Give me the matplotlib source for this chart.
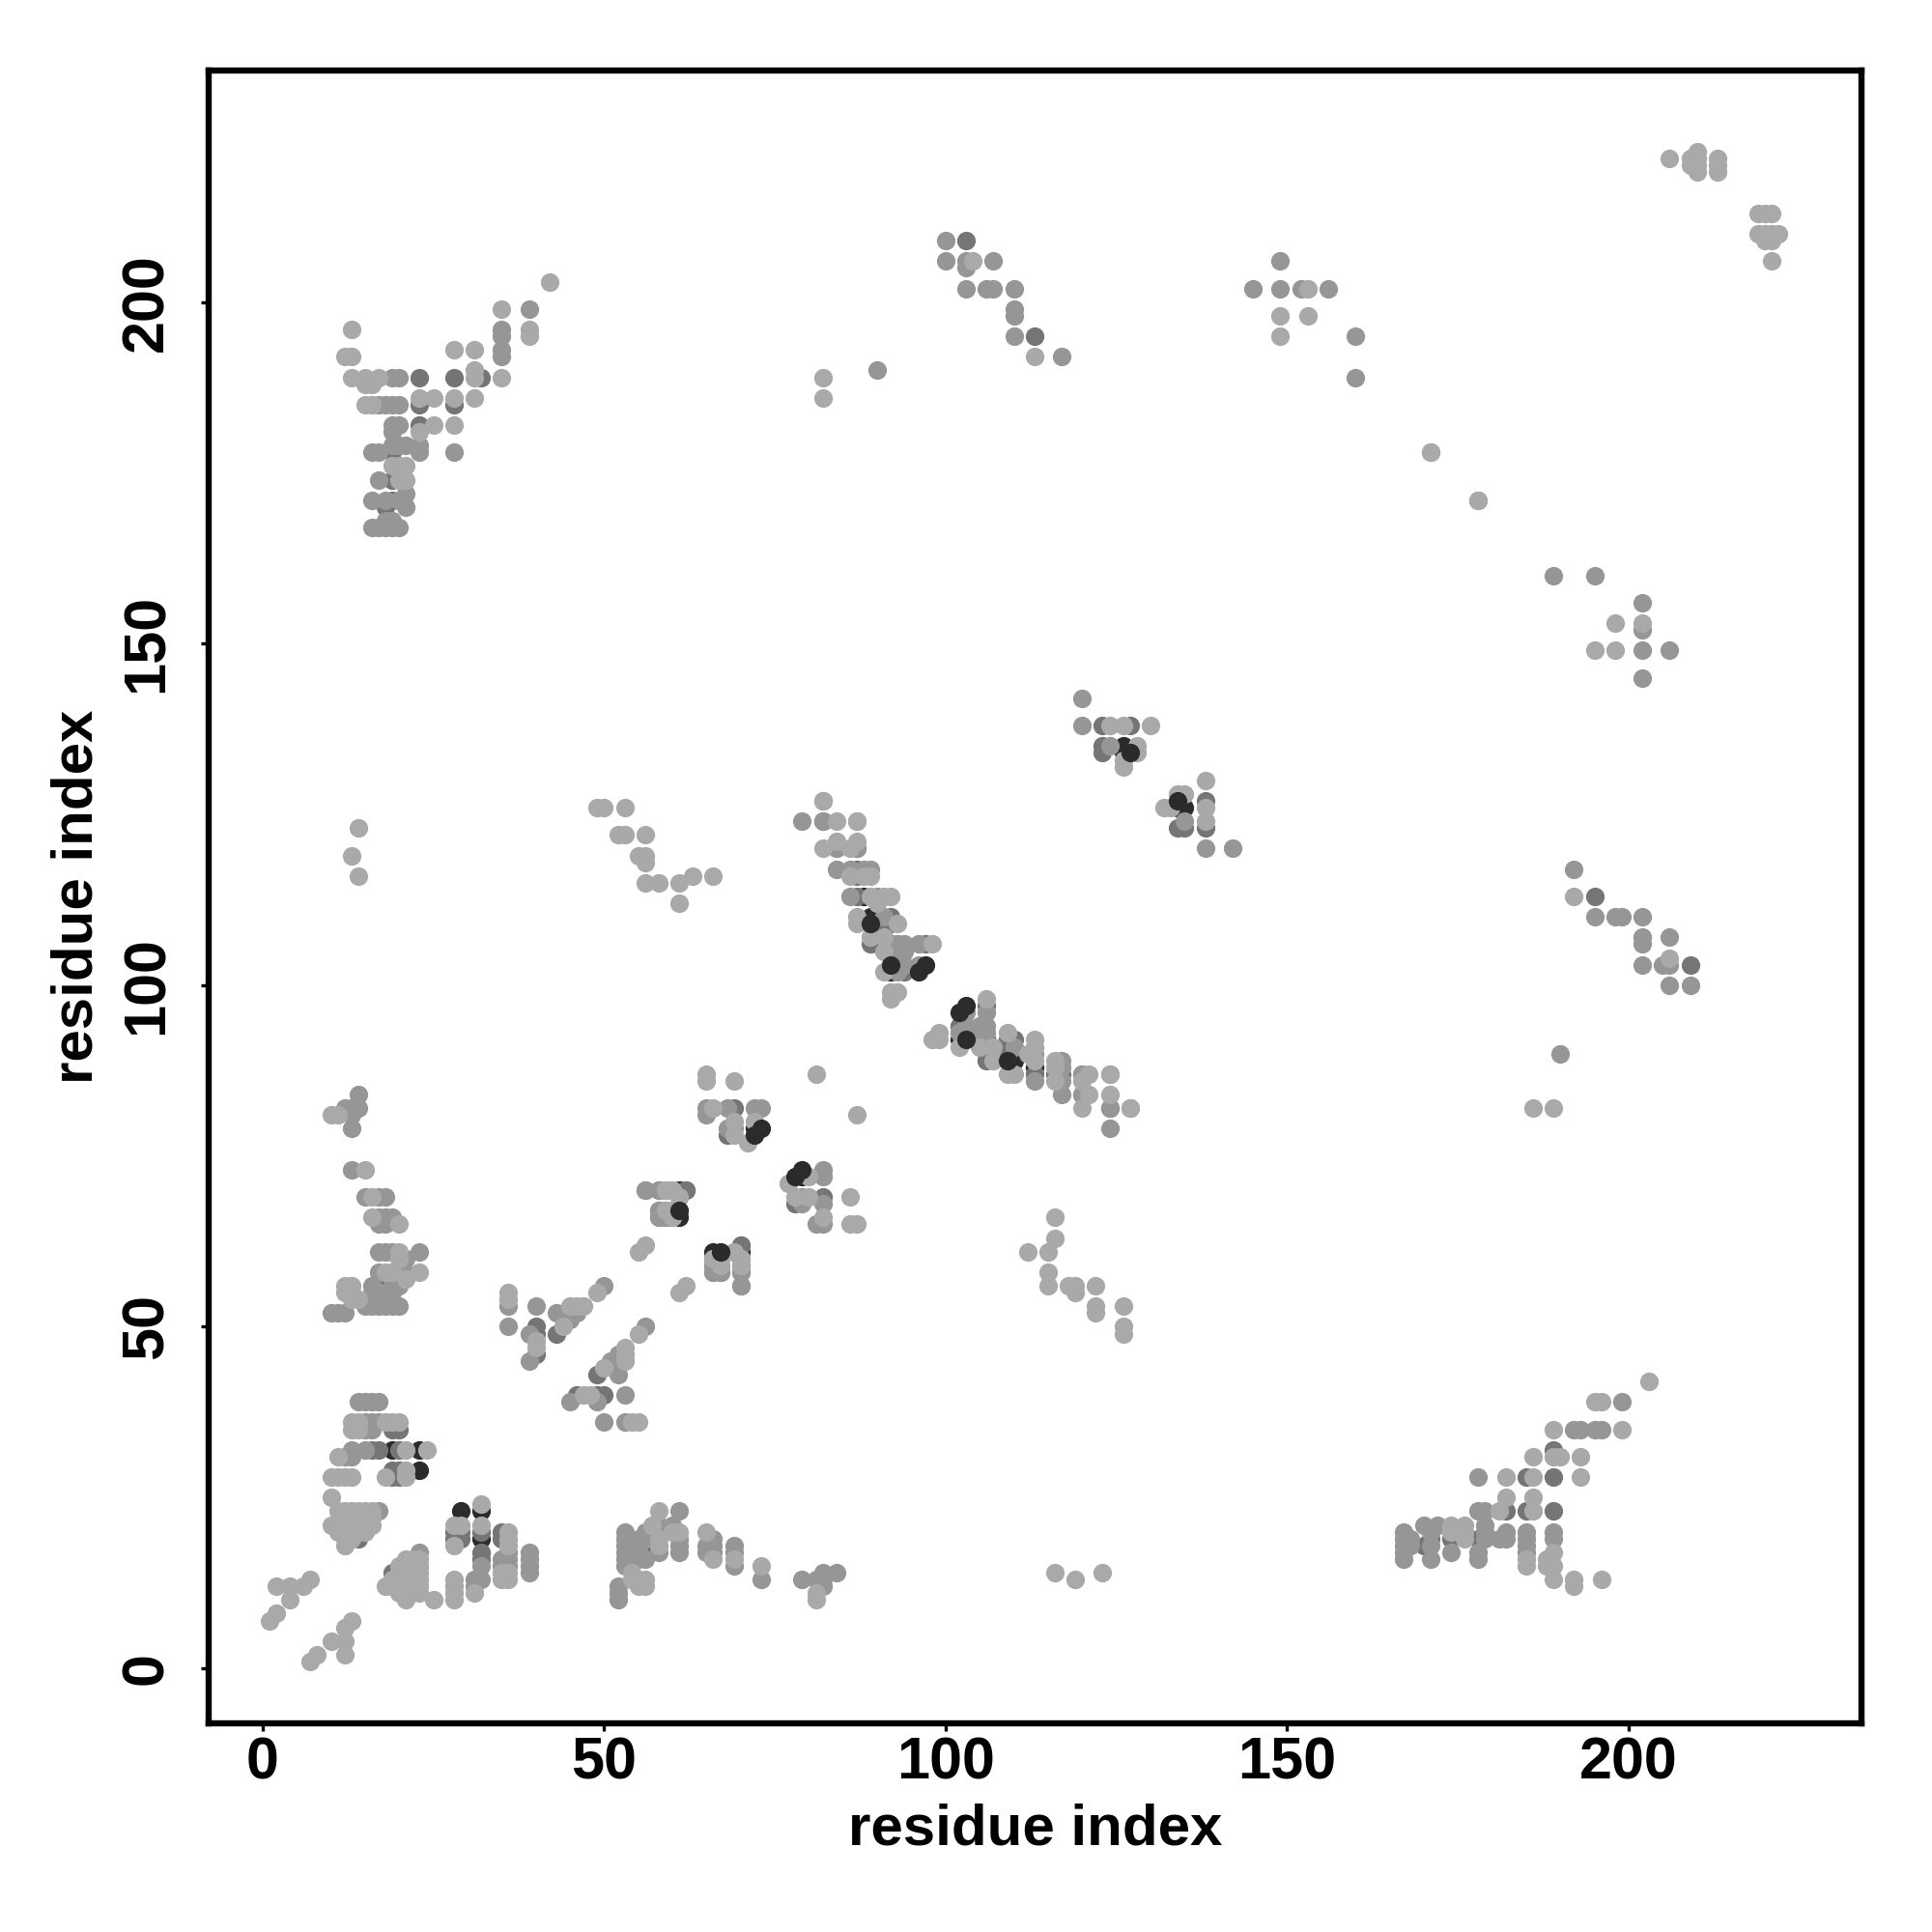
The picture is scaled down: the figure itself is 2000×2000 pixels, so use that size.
import matplotlib
matplotlib.use("Agg")
import matplotlib.pyplot as plt

# Residue contacts (upper triangle, map is symmetric), grouped by grey level
contacts_vdark = [(23,29),(19,32),(61,70),(72,79),(126,134),(126,135),(88,113),(89,110),(89,109),
    (91,106),(92,106),(92,102),(23,32),(66,61)]

contacts_dark = [(23,189),(28,189),(32,189),(23,185),(28,185),(23,182),(19,178),(19,174),(19,171),(18,170),
    (103,209),(113,195),(19,35),(20,35),(16,32),(17,32),(20,32),(19,29),(20,29),(19,28),(20,28),(14,19),
    (40,50),(18,56),(18,57),(43,49),
    (40,49),(40,46),(61,69),(62,70),(60,66),(70,62),(69,82),(68,78),
    (123,138),(127,138),(123,135),(123,134),(87,120),(87,117),(87,113),(90,109),(92,110),(92,109),
    (89,106),(90,106),(92,103),(94,102),(97,106),(87,116),(124,82)]

contacts_mid = [(35,196),(35,195),(35,193),(35,192),(39,199),(19,189),(20,189),(17,185),(18,185),(19,185),(20,185),
    (19,182),(20,182),(19,181),(16,178),(17,178),(19,179),(20,179),(21,179),(23,179),(23,178),(28,178),
    (17,174),(16,171),(18,171),(20,171),(21,172),(21,170),(16,167),(17,167),(18,167),(19,167),(20,167),(18,168),(19,168),
    (100,209),(100,206),(103,206),(103,205),(107,206),(103,202),(106,202),(107,202),(110,202),(110,199),(110,198),(110,195),(117,192),
    (160,195),(160,189),(149,206),(149,202),(152,202),(156,202),(145,202),(90,190),(178,171),
    (14,39),(15,39),(16,39),(17,39),(15,36),(16,36),(17,36),(15,35),(16,35),(15,32),(13,32),(12,31),(13,31),(17,23),
    (14,84),(12,82),(13,82),(14,82),(13,81),(13,79),(13,73),(15,69),(17,69),(18,69),
    (17,66),(18,66),(19,66),(17,65),(18,65),(17,61),(18,61),(19,61),(21,60),(23,61),(17,58),(21,58),(19,56),(20,56),(16,56),
    (16,55),(17,55),(18,55),(19,55),(15,53),(16,53),(17,53),(18,53),(19,53),(20,53),(10,52),(11,52),(12,52),
    (36,53),(36,50),(40,53),(39,49),(39,45),(43,52),(45,52),(46,52),(45,51),(50,56),(56,70),(58,70),(59,70),
    (58,67),(59,67),(58,66),(59,66),(66,58),(67,58),(66,59),(70,58),(70,56),(65,82),(65,81),(68,82),(72,82),(73,82),(68,79),(69,79),
    (120,142),(120,138),(124,135),(82,124),(79,124),(84,117),(86,117),(88,117),(89,117),(86,113),(90,113),(91,110),
    (93,106),(94,106),(96,106),(93,105),(94,105),(93,103),(94,103),(93,102),(96,103),(84,120),(124,87),(127,82),(120,87),(120,84)]

contacts_light = [(42,203),(35,199),(13,196),(39,196),(39,195),(12,192),(13,192),(28,193),(31,193),(13,189),(15,189),(17,189),
    (31,190),(31,189),(35,189),(15,188),(16,188),(15,185),(16,185),(23,186),(25,186),(28,186),(31,186),(23,181),(25,182),(28,182),
    (19,176),(20,176),(21,176),(21,174),(20,174),(104,206),(113,192),(82,189),(82,186),(171,178),(149,198),(149,195),(153,202),(153,198),
    (206,221),(209,221),(210,222),(210,221),(210,220),(210,219),(209,220),(213,221),(213,220),(213,219),
    (13,36),(14,36),(18,36),(19,36),(20,36),(13,35),(14,35),(21,32),(24,32),(11,31),(10,28),(11,28),(12,28),(13,28),(18,28),(21,28),(21,29),
    (10,25),(11,23),(12,23),(13,23),(14,23),(15,23),(16,23),(12,22),(13,22),(14,22),(15,22),(16,22),
    (10,21),(11,21),(12,21),(13,21),(14,21),(15,21),(16,21),(11,20),(12,20),(13,20),(14,20),(15,20),(12,19),(13,19),(12,18),
    (2,12),(4,12),(6,12),(7,13),(4,10),(2,8),(1,7),
    (10,81),(11,81),(15,73),(16,69),(16,66),(20,65),(20,61),(20,60),(23,58),(18,58),(19,58),(21,57),
    (12,56),(13,56),(12,55),(13,55),(13,54),(14,54),
    (36,55),(36,54),(40,48),(40,47),(44,50),(45,53),(46,53),(47,53),(49,55),(55,61),(56,62),(60,70),(60,67),
    (66,60),(67,59),(69,61),(70,60),(70,59),
    (65,87),(65,86),(69,86),(81,87),(66,82),(69,80),(69,78),(72,80),(71,77),
    (49,126),(50,126),(53,126),(52,122),(53,122),(56,122),(55,119),(56,119),(56,118),(56,115),(58,115),(61,115),(63,116),(66,116),(61,112),
    (14,123),(13,119),(14,116),(124,138),(126,138),(130,138),(128,135),(128,134),(126,133),(126,132),
    (82,127),(84,124),(87,124),(82,120),(84,121),(86,120),(87,121),(86,116),(89,116),(89,113),(91,113),(92,113),(90,112),(87,110),(87,109),(93,109),
    (89,107),(98,106),(91,107),(91,105),(91,102),(92,99),(93,99),(92,98),(88,116)]

contacts_top = [(73,79),(72,78),(96,102),(61,67),(97,103),(92,103),(89,109),(127,134)]

tick_values = [0, 50, 100, 150, 200]
axis_label = "residue index"

grey_levels = [(contacts_vdark, "#2b2b2b"), (contacts_dark, "#757575"), (contacts_mid, "#969696"),
               (contacts_light, "#a9a9a9"), (contacts_top, "#2b2b2b")]

plt.rcParams["font.family"] = ["Liberation Sans", "DejaVu Sans"]
plt.rcParams["font.weight"] = "bold"

fig = plt.figure(figsize=(10, 10), dpi=200, facecolor="white")
W = 2000.0
ax = fig.add_axes([216 / W, 1 - 1784 / W, (1927 - 216) / W, (1784 - 73) / W])

for pairs, colour in grey_levels:
    xs = [p[0] for p in pairs] + [p[1] for p in pairs]
    ys = [p[1] for p in pairs] + [p[0] for p in pairs]
    ax.scatter(xs, ys, s=48, c=colour, linewidths=0, zorder=2)

ax.set_xlim(-7.9, 234.1)
ax.set_ylim(-8.06, 233.9)
ax.set_xticks(tick_values)
ax.set_yticks(tick_values)
ax.tick_params(axis="both", length=3, width=1.2, labelsize=22, color="black")
ax.tick_params(axis="x", pad=2)
ax.tick_params(axis="y", pad=9.5)
for lab in ax.get_yticklabels():
    lab.set_rotation(90)
    lab.set_verticalalignment("center")
for sp in ax.spines.values():
    sp.set_linewidth(2.3)

fig.text(1072 / W, 1 - 1894 / W, axis_label, fontsize=21.6, fontweight="bold", ha="center", va="center")
fig.text(80 / W, 1 - 928 / W, axis_label, fontsize=21.6, fontweight="bold", ha="center", va="center", rotation=90)

fig.savefig("out.png", dpi=200, facecolor="white")
